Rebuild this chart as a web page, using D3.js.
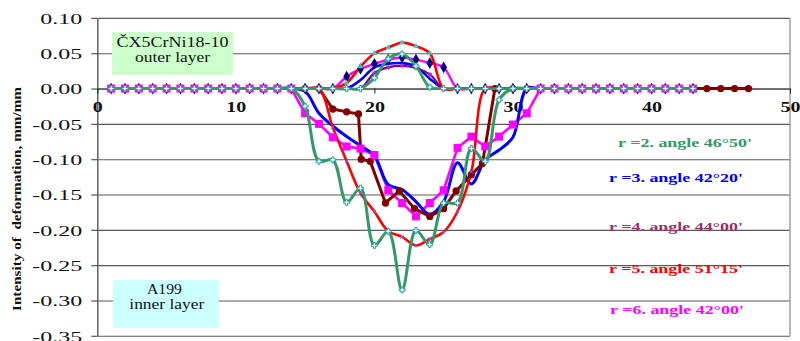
<!DOCTYPE html>
<html>
<head>
<meta charset="utf-8">
<script src="https://cdn.jsdelivr.net/npm/d3@7"></script>
<style>
  html, body { margin: 0; padding: 0; background: #fff; }
  svg { display: block; }
  svg text { font-family: "Liberation Serif", "Times New Roman", serif !important; }
</style>
</head>
<body>
<svg id="chart" width="800" height="341"></svg>
<script>
// Measurement point numbers along the section
const points43 = [1,2,3,4,5,6,7,8,9,10,11,12,13,14,15,16,17,18,19,20,21,22,23,24,25,26,27,28,29,30,31,32,33,34,35,36,37,38,39,40,41,42,43];
const points47 = [1,2,3,4,5,6,7,8,9,10,11,12,13,14,15,16,17,18,19,20,21,22,23,24,25,26,27,28,29,30,31,32,33,34,35,36,37,38,39,40,41,42,43,44,45,46,47];
const pointsR4 = [1,2,3,4,5,6,7,8,9,10,11,12,13,14,15,16,17,18,18.85,19.05,19.7,20.8,21.8,22.9,24,25,25.9,27,27.8,28.7,30,31,32,33,34,35,36,37,38,39,40,41,42,43,44,45,46,47];

// Outer layer (ČX5CrNi18-10), intensity of deformation, mm/mm
const outerR2 = [0,0,0,0,0,0,0,0,0,0,0,0,0,0,0,0,0,0,0,0.015,0.042,0.049,0.032,0.002,0,0,0,0,0,0,0,0,0,0,0,0,0,0,0,0,0,0,0];
const outerR3 = [0,0,0,0,0,0,0,0,0,0,0,0,0,0,0,0,0,0,0.012,0.030,0.035,0.036,0.031,0.014,0,0,0,0,0,0,0,0,0,0,0,0,0,0,0,0,0,0,0];
const outerR4 = [0,0,0,0,0,0,0,0,0,0,0,0,0,0,0,0,0,0,0,0.022,0.030,0.032,0.029,0.020,0,0,0,0,0,0,0,0,0,0,0,0,0,0,0,0,0,0,0];
const outerR5 = [0,0,0,0,0,0,0,0,0,0,0,0,0,0,0,0,0,0.008,0.031,0.050,0.058,0.065,0.060,0.050,0,0,0,0,0,0,0,0,0,0,0,0,0,0,0,0,0,0,0];
const outerR6 = [0,0,0,0,0,0,0,0,0,0,0,0,0,0,0,0,0,0.017,0.028,0.035,0.041,0.044,0.041,0.036,0.030,0,0,0,0,0,0,0,0,0,0,0,0,0,0,0,0,0,0];

// Inner layer (A199), intensity of deformation, mm/mm
const innerR2 = [0,0,0,0,0,0,0,0,0,0,0,0,0,0,-0.025,-0.103,-0.101,-0.161,-0.141,-0.222,-0.202,-0.285,-0.201,-0.221,-0.162,-0.162,-0.085,-0.103,-0.016,0,0,0,0,0,0,0,0,0,0,0,0,0,0];
const innerR3 = [0,0,0,0,0,0,0,0,0,0,0,0,0,0,-0.004,-0.035,-0.053,-0.068,-0.081,-0.095,-0.136,-0.143,-0.160,-0.178,-0.160,-0.105,-0.135,-0.101,-0.087,-0.069,0,0,0,0,0,0,0,0,0,0,0,0,0,0,0,0,0];
const innerR4 = [0,0,0,0,0,0,0,0,0,0,0,0,0,0,0,0,-0.029,-0.033,-0.036,-0.100,-0.103,-0.162,-0.145,-0.170,-0.181,-0.170,-0.145,-0.122,-0.106,0,0,0,0,0,0,0,0,0,0,0,0,0,0,0,0,0,0,0];
const innerR5 = [0,0,0,0,0,0,0,0,0,0,0,0,0,0,0,0,-0.055,-0.103,-0.148,-0.174,-0.202,-0.210,-0.222,-0.213,-0.203,-0.174,-0.118,0,0,0,0,0,0,0,0,0,0,0,0,0,0,0,0];
const innerR6 = [0,0,0,0,0,0,0,0,0,0,0,0,0,0,-0.035,-0.050,-0.069,-0.082,-0.085,-0.094,-0.144,-0.162,-0.181,-0.162,-0.144,-0.084,-0.068,-0.082,-0.068,-0.051,-0.035,0,0,0,0,0,0,0,0,0,0,0,0];

// Axis ticks
const xTickValues = [0, 10, 20, 30, 40, 50];
const xTickLabels = ["0", "10", "20", "30", "40", "50"];
const yTickValues = [0.10, 0.05, 0.00, -0.05, -0.10, -0.15, -0.20, -0.25, -0.30, -0.35];
const yTickLabels = ["0.10", "0.05", "0.00", "-0.05", "-0.10", "-0.15", "-0.20", "-0.25", "-0.30", "-0.35"];

// Annotations
const seriesLabels = ["r =2. angle 46°50'", "r =3. angle 42°20'", "r =4. angle 44°00'", "r =5. angle 51°15'", "r =6. angle 42°00'"];
const yTitle = "Intensity of  deformation, mm/mm";

const svg = d3.select("#chart");
const x = d3.scaleLinear().domain([0, 50]).range([97.3, 790]);
const y = d3.scaleLinear().domain([-0.35, 0.10]).range([335.8, 17.9]);

// Horizontal gridlines
const grid = svg.append("g").attr("transform", `translate(${x(0)},0)`)
  .call(d3.axisLeft(y).tickValues(yTickValues).tickSize(-(x(50) - x(0))).tickFormat(""));
grid.select(".domain").remove();
grid.selectAll(".tick line").attr("stroke", "#5a5a5a").attr("stroke-width", 1.1);

// Right edge of the plot area
svg.append("line").attr("x1", x(50)).attr("x2", x(50)).attr("y1", y(0.10)).attr("y2", y(-0.35))
  .attr("stroke", "#999").attr("stroke-width", 1.4);

// Series annotations
const labelColors = ["#339966", "#0000ff", "#993366", "#ff0000", "#ff00ff"];
const labelPos = [[685, 147], [676, 181.5], [676, 230.5], [676, 272.5], [677, 313.5]];
svg.append("g").selectAll("text").data(seriesLabels).join("text")
  .attr("x", (d, i) => labelPos[i][0]).attr("y", (d, i) => labelPos[i][1])
  .attr("text-anchor", "middle").attr("font-size", 13).attr("font-weight", "bold")
  .attr("fill", (d, i) => labelColors[i])
  .attr("textLength", 134).attr("lengthAdjust", "spacingAndGlyphs")
  .text(d => d);

// Y axis
const yAxis = svg.append("g").attr("transform", `translate(${x(0)},0)`)
  .call(d3.axisLeft(y).tickValues(yTickValues).tickSize(6).tickSizeOuter(0)
    .tickFormat((d, i) => yTickLabels[i]));
yAxis.select(".domain").attr("stroke", "#555").attr("stroke-width", 1.4);
yAxis.selectAll(".tick line").attr("stroke", "#555").attr("stroke-width", 1.2);
yAxis.selectAll(".tick text")
  .attr("x", -15).attr("dy", "0.35em")
  .attr("font-size", 15).attr("fill", "#111")
  .attr("textLength", (d, i) => yTickLabels[i].startsWith("-") ? 50 : 42)
  .attr("lengthAdjust", "spacingAndGlyphs");

// X axis along zero
const xAxis = svg.append("g").attr("transform", `translate(0,${y(0)})`)
  .call(d3.axisBottom(x).tickValues(xTickValues).tickSize(5).tickSizeOuter(0)
    .tickFormat((d, i) => xTickLabels[i]));
xAxis.select(".domain").attr("stroke", "#333").attr("stroke-width", 1);
xAxis.selectAll(".tick line").attr("stroke", "#222");
xAxis.selectAll(".tick text")
  .attr("y", 13)
  .attr("font-size", 15).attr("font-weight", "bold").attr("fill", "#111")
  .attr("textLength", (d, i) => xTickLabels[i].length * 10)
  .attr("lengthAdjust", "spacingAndGlyphs");

// Y axis title
svg.append("text")
  .attr("transform", `translate(20.5,199) rotate(-90)`)
  .attr("text-anchor", "middle").attr("font-size", 12.5).attr("font-weight", "bold")
  .attr("fill", "#111").style("white-space", "pre")
  .attr("textLength", 224).attr("lengthAdjust", "spacingAndGlyphs")
  .text(yTitle);

// Material boxes
function materialBox(x0, y0, w, h, fill, lines) {
  const g = svg.append("g");
  g.append("rect").attr("x", x0).attr("y", y0).attr("width", w).attr("height", h).attr("fill", fill);
  lines.forEach(l => {
    g.append("text").attr("x", l.cx).attr("y", l.by).attr("text-anchor", "middle")
      .attr("font-size", 14).attr("fill", "#111")
      .attr("textLength", l.len).attr("lengthAdjust", "spacingAndGlyphs").text(l.t);
  });
}
materialBox(112, 32, 121, 43, "#ccffcc", [
  { t: "ČX5CrNi18-10", cx: 172.5, by: 47, len: 112 },
  { t: "outer layer", cx: 172.5, by: 62, len: 75 }
]);
materialBox(113, 280, 106, 48, "#ccffff", [
  { t: "A199", cx: 164.5, by: 293.5, len: 35 },
  { t: "inner layer", cx: 166.8, by: 308.5, len: 75 }
]);

// Data series
const smooth = d3.curveCatmullRom.alpha(0.5);
const series = [
  { xs: points43, ys: outerR6, color: "#ff00ff", w: 2.4, curve: smooth, sym: d3.symbolDiamond, size: 40, fill: "#000080", mstroke: "none" },
  { xs: pointsR4, ys: innerR4, color: "#800000", w: 3, curve: d3.curveLinear, sym: d3.symbolCircle, size: 42, fill: "#800000", mstroke: "none" },
  { xs: points43, ys: outerR4, color: "#800080", w: 2.2, curve: smooth, sym: d3.symbolAsterisk || d3.symbolCross, size: 18, fill: "none", mstroke: "#9933cc" },
  { xs: points43, ys: innerR6, color: "#ff00ff", w: 2.6, curve: d3.curveLinear, sym: d3.symbolSquare, size: 64, fill: "#ff00ff", mstroke: "none" },
  { xs: points43, ys: outerR3, color: "#0000ff", w: 2.6, curve: smooth },
  { xs: points47, ys: innerR3, color: "#0000ff", w: 3, curve: smooth },
  { xs: points43, ys: innerR5, color: "#ff0000", w: 2.6, curve: smooth, sym: d3.symbolTimes || d3.symbolCross, size: 10, fill: "none", mstroke: "#7070ff" },
  { xs: points43, ys: outerR5, color: "#ff0000", w: 2.6, curve: smooth, sym: d3.symbolTriangle, size: 14, fill: "#33cccc", mstroke: "none" }
];
// r = 2 curves are drawn last, over everything else
const topSeries = [
  { xs: points43, ys: outerR2, color: "#339966", w: 2.8, curve: smooth, sym: d3.symbolCross, size: 20, fill: "#e6ffff", mstroke: "#2a9d9d" },
  { xs: points43, ys: innerR2, color: "#339966", w: 3, curve: smooth, sym: d3.symbolCross, size: 20, fill: "#e6ffff", mstroke: "#2a9d9d" }
];
// Line stacking order (bottom to top)
const lineOrder = [3, 0, 4, 5, 1, 2, 6, 7];

const toPts = s => s.xs.map((v, i) => [v, s.ys[i]]);
function drawLine(g, s) {
  const line = d3.line().x(d => x(d[0])).y(d => y(d[1])).curve(s.curve);
  g.append("path").attr("d", line(toPts(s))).attr("fill", "none")
    .attr("stroke", s.color).attr("stroke-width", s.w).attr("stroke-linejoin", "round");
}
function drawMarkers(g, s) {
  g.append("g").selectAll("path").data(toPts(s)).join("path")
    .attr("transform", d => `translate(${x(d[0])},${y(d[1])})`)
    .attr("d", d3.symbol().type(s.sym).size(s.size))
    .attr("fill", s.fill).attr("stroke", s.mstroke).attr("stroke-width", 1);
}
const linesG = svg.append("g");
lineOrder.forEach(k => drawLine(linesG, series[k]));
const markersG = svg.append("g");
series.filter(s => s.sym).forEach(s => drawMarkers(markersG, s));
const topG = svg.append("g");
topSeries.forEach(s => drawLine(topG, s));
topSeries.forEach(s => drawMarkers(topG, s));
</script>
</body>
</html>
